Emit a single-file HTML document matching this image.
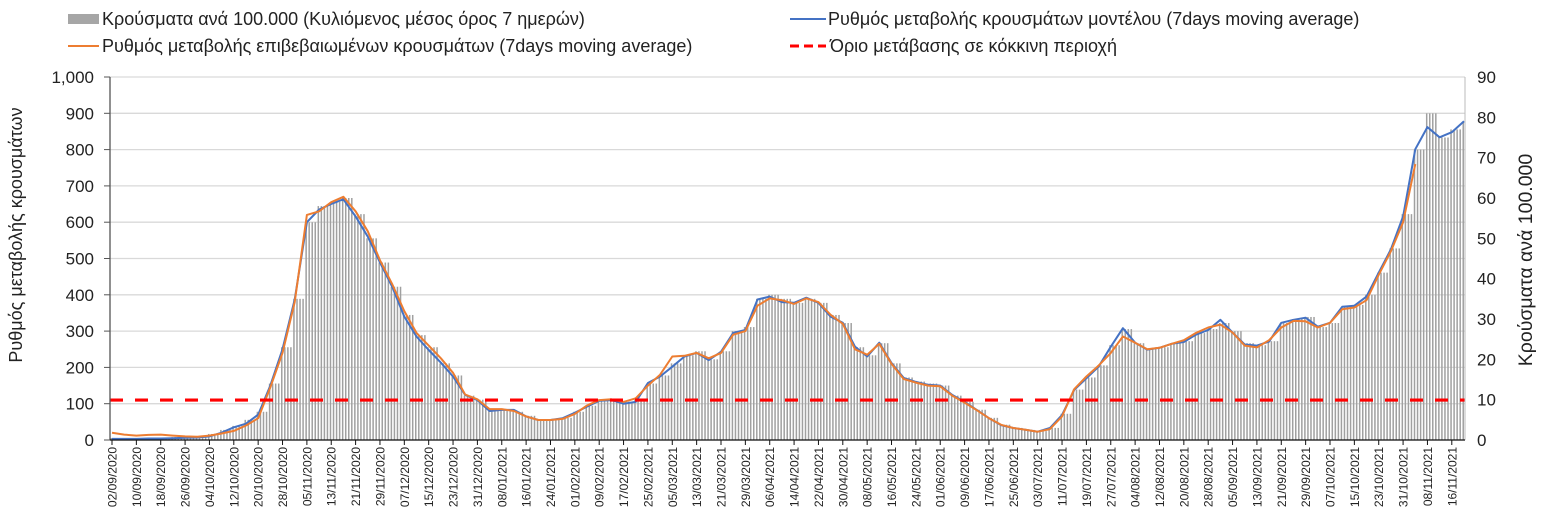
<!DOCTYPE html>
<html><head><meta charset="utf-8"><style>
body{margin:0;background:#fff;}
svg{display:block;font-family:"Liberation Sans","DejaVu Sans",sans-serif;}
</style></head><body>
<svg id="chart" width="1550" height="526" xmlns="http://www.w3.org/2000/svg">
<g id="legend">
 <g><rect x="68" y="14" width="31" height="10" fill="#a6a6a6"/><text x="102" y="25" font-size="18" fill="#222">Κρούσματα ανά 100.000 (Κυλιόμενος μέσος όρος 7 ημερών)</text></g>
 <g><line x1="790" y1="19" x2="826" y2="19" stroke="#4472c4" stroke-width="2"/><text x="828" y="25" font-size="18" fill="#222">Ρυθμός μεταβολής κρουσμάτων μοντέλου (7days moving average)</text></g>
 <g><line x1="68" y1="46" x2="99" y2="46" stroke="#ed7d31" stroke-width="2"/><text x="102" y="52" font-size="18" fill="#222">Ρυθμός μεταβολής επιβεβαιωμένων κρουσμάτων (7days moving average)</text></g>
 <g><line x1="790" y1="46" x2="826" y2="46" stroke="#ff0000" stroke-width="3" stroke-dasharray="9,5"/><text x="830" y="52" font-size="18" fill="#222">Όριο μετάβασης σε κόκκινη περιοχή</text></g>
</g>
<text transform="translate(22,235) rotate(-90)" text-anchor="middle" font-size="18" fill="#222">Ρυθμός μεταβολής κρουσμάτων</text>
<text transform="translate(1532,260) rotate(-90)" text-anchor="middle" font-size="19.5" fill="#222">Κρούσματα ανά 100.000</text>
<g id="grid"></g><g id="bars"></g><g id="lines"></g><g id="axes"></g>
</svg>
<script>
const dayStep = 4;
const startLabels = ["02/09/2020","10/09/2020","18/09/2020","26/09/2020","04/10/2020","12/10/2020","20/10/2020","28/10/2020","05/11/2020","13/11/2020","21/11/2020","29/11/2020","07/12/2020","15/12/2020","23/12/2020","31/12/2020","08/01/2021","16/01/2021","24/01/2021","01/02/2021","09/02/2021","17/02/2021","25/02/2021","05/03/2021","13/03/2021","21/03/2021","29/03/2021","06/04/2021","14/04/2021","22/04/2021","30/04/2021","08/05/2021","16/05/2021","24/05/2021","01/06/2021","09/06/2021","17/06/2021","25/06/2021","03/07/2021","11/07/2021","19/07/2021","27/07/2021","04/08/2021","12/08/2021","20/08/2021","28/08/2021","05/09/2021","13/09/2021","21/09/2021","29/09/2021","07/10/2021","15/10/2021","23/10/2021","31/10/2021","08/11/2021","16/11/2021"];
const leftTicks = [0,100,200,300,400,500,600,700,800,900,1000];
const leftTickLabels = ["0","100","200","300","400","500","600","700","800","900","1,000"];
const rightTicks = [0,10,20,30,40,50,60,70,80,90];
const threshold = [110];
const modelRate = [3,3,3,4,4,5,6,7,10,20,35,45,70,150,250,387,600,635,650,663,616,560,489,423,340,285,248,213,175,124,110,80,83,83,65,55,55,60,75,92,108,110,100,105,157,175,202,230,240,220,243,295,303,387,395,380,378,392,378,340,323,257,230,268,212,171,160,152,150,124,105,83,60,41,33,28,23,33,69,138,170,202,257,308,268,249,254,265,270,290,303,331,296,263,260,271,323,331,337,312,323,367,370,395,461,525,616,801,862,834,848,878];
const confirmedRate = [20,15,12,14,15,12,10,9,12,18,25,40,60,145,240,380,620,630,655,670,630,575,495,430,355,295,260,225,185,125,112,85,85,80,65,55,55,58,72,95,110,112,105,115,150,180,230,232,240,225,240,290,300,370,390,385,375,390,380,345,320,250,235,265,210,168,158,150,148,122,103,82,60,42,33,28,23,30,65,140,175,205,240,285,268,250,254,265,275,295,310,318,296,260,255,275,310,328,327,310,323,360,365,385,455,520,600,760,null,null,null,null];
const casesPer100k = [0.5,0.5,0.5,0.5,0.6,0.7,0.8,1,1.5,2.5,3.5,5,7,14,23,35,54,58,59,60,56,50,44,38,31,26,23,19,16,11,10,7.5,7.5,7,6,5,5,5.5,7,8.5,10,10,9.5,10,14,16,19,21,22,20,22,27,28,35,36,35,34,35,34,31,29,23,21,24,19,15.5,14.5,14,13.5,11,9.5,7.5,5.5,3.8,3,2.5,2.2,3,6.5,12.5,15.5,18.5,23.5,27.5,24,22.5,23,24,24.5,26.5,27.5,29,27,24,23.5,24.5,29,30,30.5,28,29,33,33.5,36,41.5,47.5,56,72,81,75,77,79];

const NS="http://www.w3.org/2000/svg";
const X0=112, PX=3.045, Y0=440, YT=77;
const xScale = i => X0 + i*dayStep*PX;
const yLeft = v => Y0 - v/1000*(Y0-YT);
const yRight = v => Y0 - v/90*(Y0-YT);
function mk(tag, attrs, parent){const e=document.createElementNS(NS,tag);for(const k in attrs)e.setAttribute(k,attrs[k]);parent.appendChild(e);return e;}
const grid=document.getElementById('grid'),bars=document.getElementById('bars'),lines=document.getElementById('lines'),axes=document.getElementById('axes');

leftTicks.forEach((t,i)=>{
  const g=mk('line',{x1:110,x2:1465,y1:yLeft(t),y2:yLeft(t),stroke:'#d9d9d9','stroke-width':1.3},grid);
  
  
  const l=mk('text',{x:94,y:yLeft(t)+6,'text-anchor':'end','font-size':17,fill:'#222'},axes);
  l.textContent=leftTickLabels[i];
  
  
  mk('line',{x1:104,x2:110,y1:yLeft(t),y2:yLeft(t),stroke:'#555'},axes);
});
rightTicks.forEach(t=>{
  const l=mk('text',{x:1477,y:yRight(t)+6,'font-size':17,fill:'#222'},axes);
  l.textContent=String(t);
  
  
});
casesPer100k.forEach((v,i)=>{
  const x=xScale(i);
  for(let k=0;k<4;k++){
    const bx=x-1.5+k*dayStep*PX/4;
    if(bx>1463) continue;
    const r=mk('rect',{x:bx,y:yRight(v),width:1.5,height:Y0-yRight(v),fill:'#a0a0a0'},bars);
    
    
  }
});
function path(arr,color,name){
  let d='';let started=false;
  arr.forEach((v,i)=>{if(v===null)return;d+=(started?'L':'M')+xScale(i).toFixed(1)+','+yLeft(v).toFixed(1);started=true;});
  const p=mk('path',{d:d,fill:'none',stroke:color,'stroke-width':2,'stroke-linejoin':'round'},lines);
  
  
}
path(modelRate,'#4472c4','model-rate-line');
path(confirmedRate,'#ed7d31','confirmed-rate-line');
const th=mk('line',{x1:110,x2:1465,y1:yLeft(threshold[0]),y2:yLeft(threshold[0]),stroke:'#ff0000','stroke-width':3.2,'stroke-dasharray':'13,12'},lines);


mk('line',{x1:110,x2:110,y1:YT,y2:Y0,stroke:'#555','stroke-width':1.3},axes);
mk('line',{x1:1465,x2:1465,y1:YT,y2:Y0,stroke:'#bbb','stroke-width':1},axes);
mk('line',{x1:110,x2:1465,y1:Y0,y2:Y0,stroke:'#111','stroke-width':1.3},axes);
startLabels.forEach((s,i)=>{
  const x=X0+i*8*PX;
  mk('line',{x1:x,x2:x,y1:Y0,y2:Y0+5,stroke:'#111'},axes);
  const t=mk('text',{transform:`translate(${x+4.5},447) rotate(-90)`,'text-anchor':'end','font-size':12,fill:'#222'},axes);
  t.textContent=s;
  
  
});
</script>
</body></html>
